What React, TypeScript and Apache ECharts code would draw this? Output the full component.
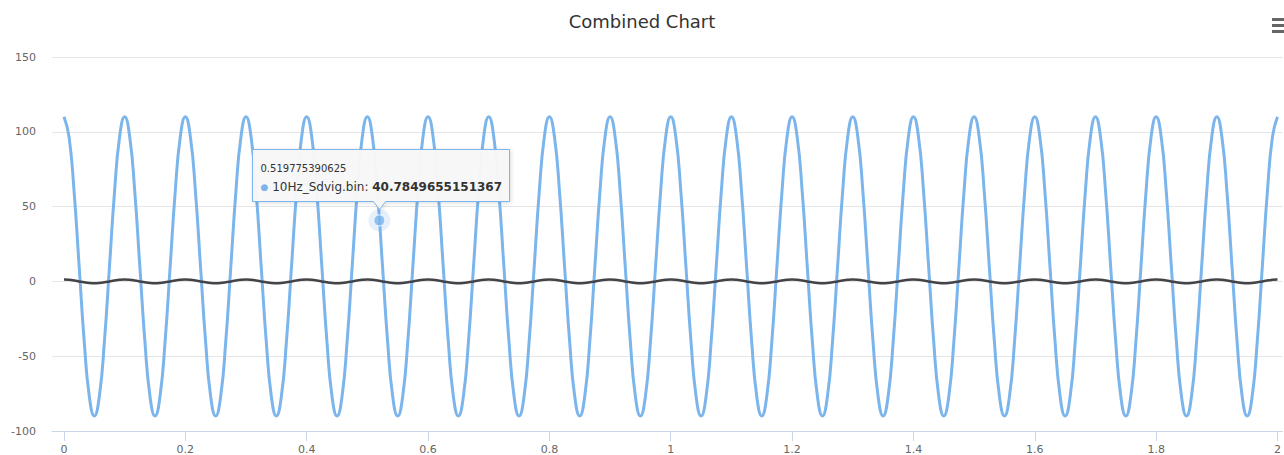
import { useEffect, useRef } from 'react';
import * as echarts from 'echarts';

// Sampling interval of both signals (seconds per sample)
const sampleStep = 1 / 120;

// 10Hz_Sdvig.bin values, one line per 0.1 s cycle
const blueValues = [
  110, 96.6, 60, 10, -40, -76.6, -90, -76.6, -40, 10, 60, 96.6,
  110, 96.6, 60, 10, -40, -76.6, -90, -76.6, -40, 10, 60, 96.6,
  110, 96.6, 60, 10, -40, -76.6, -90, -76.6, -40, 10, 60, 96.6,
  110, 96.6, 60, 10, -40, -76.6, -90, -76.6, -40, 10, 60, 96.6,
  110, 96.6, 60, 10, -40, -76.6, -90, -76.6, -40, 10, 60, 96.6,
  110, 96.6, 60, 10, -40, -76.6, -90, -76.6, -40, 10, 60, 96.6,
  110, 96.6, 60, 10, -40, -76.6, -90, -76.6, -40, 10, 60, 96.6,
  110, 96.6, 60, 10, -40, -76.6, -90, -76.6, -40, 10, 60, 96.6,
  110, 96.6, 60, 10, -40, -76.6, -90, -76.6, -40, 10, 60, 96.6,
  110, 96.6, 60, 10, -40, -76.6, -90, -76.6, -40, 10, 60, 96.6,
  110, 96.6, 60, 10, -40, -76.6, -90, -76.6, -40, 10, 60, 96.6,
  110, 96.6, 60, 10, -40, -76.6, -90, -76.6, -40, 10, 60, 96.6,
  110, 96.6, 60, 10, -40, -76.6, -90, -76.6, -40, 10, 60, 96.6,
  110, 96.6, 60, 10, -40, -76.6, -90, -76.6, -40, 10, 60, 96.6,
  110, 96.6, 60, 10, -40, -76.6, -90, -76.6, -40, 10, 60, 96.6,
  110, 96.6, 60, 10, -40, -76.6, -90, -76.6, -40, 10, 60, 96.6,
  110, 96.6, 60, 10, -40, -76.6, -90, -76.6, -40, 10, 60, 96.6,
  110, 96.6, 60, 10, -40, -76.6, -90, -76.6, -40, 10, 60, 96.6,
  110, 96.6, 60, 10, -40, -76.6, -90, -76.6, -40, 10, 60, 96.6,
  110, 96.6, 60, 10, -40, -76.6, -90, -76.6, -40, 10, 60, 96.6,
  110,
];

// 10Hz.bin values (small dark line around 0)
const blackValues = [
  1.2, 1.04, 0.6, 0, -0.6, -1.04, -1.2, -1.04, -0.6, 0, 0.6, 1.04,
  1.2, 1.04, 0.6, 0, -0.6, -1.04, -1.2, -1.04, -0.6, 0, 0.6, 1.04,
  1.2, 1.04, 0.6, 0, -0.6, -1.04, -1.2, -1.04, -0.6, 0, 0.6, 1.04,
  1.2, 1.04, 0.6, 0, -0.6, -1.04, -1.2, -1.04, -0.6, 0, 0.6, 1.04,
  1.2, 1.04, 0.6, 0, -0.6, -1.04, -1.2, -1.04, -0.6, 0, 0.6, 1.04,
  1.2, 1.04, 0.6, 0, -0.6, -1.04, -1.2, -1.04, -0.6, 0, 0.6, 1.04,
  1.2, 1.04, 0.6, 0, -0.6, -1.04, -1.2, -1.04, -0.6, 0, 0.6, 1.04,
  1.2, 1.04, 0.6, 0, -0.6, -1.04, -1.2, -1.04, -0.6, 0, 0.6, 1.04,
  1.2, 1.04, 0.6, 0, -0.6, -1.04, -1.2, -1.04, -0.6, 0, 0.6, 1.04,
  1.2, 1.04, 0.6, 0, -0.6, -1.04, -1.2, -1.04, -0.6, 0, 0.6, 1.04,
  1.2, 1.04, 0.6, 0, -0.6, -1.04, -1.2, -1.04, -0.6, 0, 0.6, 1.04,
  1.2, 1.04, 0.6, 0, -0.6, -1.04, -1.2, -1.04, -0.6, 0, 0.6, 1.04,
  1.2, 1.04, 0.6, 0, -0.6, -1.04, -1.2, -1.04, -0.6, 0, 0.6, 1.04,
  1.2, 1.04, 0.6, 0, -0.6, -1.04, -1.2, -1.04, -0.6, 0, 0.6, 1.04,
  1.2, 1.04, 0.6, 0, -0.6, -1.04, -1.2, -1.04, -0.6, 0, 0.6, 1.04,
  1.2, 1.04, 0.6, 0, -0.6, -1.04, -1.2, -1.04, -0.6, 0, 0.6, 1.04,
  1.2, 1.04, 0.6, 0, -0.6, -1.04, -1.2, -1.04, -0.6, 0, 0.6, 1.04,
  1.2, 1.04, 0.6, 0, -0.6, -1.04, -1.2, -1.04, -0.6, 0, 0.6, 1.04,
  1.2, 1.04, 0.6, 0, -0.6, -1.04, -1.2, -1.04, -0.6, 0, 0.6, 1.04,
  1.2, 1.04, 0.6, 0, -0.6, -1.04, -1.2, -1.04, -0.6, 0, 0.6, 1.04,
  1.2,
];

const xTicks = [0, 0.2, 0.4, 0.6, 0.8, 1, 1.2, 1.4, 1.6, 1.8, 2];
const yMin = -100;
const yMax = 150;
const yInterval = 50;
const xMin = -0.01975;
const xMax = 2.00823;

const blueName = '10Hz_Sdvig.bin';
const blackName = '10Hz.bin';
const hoverX = 0.519775390625;
const hoverY = 40.7849655151367;

const FONT = '"DejaVu Sans", "Lucida Grande", Arial, sans-serif';

export default function App() {
  const ref = useRef<HTMLDivElement>(null);

  useEffect(() => {
    document.body.style.margin = '0';
    const chart = echarts.init(ref.current!, null, { renderer: 'svg' });
    const toPairs = (vals: number[]) =>
      vals.map((v, i) => [Number((i * sampleStep).toFixed(6)), v]);

    chart.setOption({
      animation: false,
      textStyle: { fontFamily: FONT },
      title: {
        text: 'Combined Chart',
        left: 'center',
        top: 7,
        textStyle: { fontSize: 18, fontWeight: 'normal', color: '#333333', fontFamily: FONT },
      },
      grid: { left: 52, right: 0, top: 57, bottom: 23, containLabel: false },
      xAxis: {
        type: 'value',
        min: xMin,
        max: xMax,
        axisLine: { show: true, onZero: false, lineStyle: { color: '#ccd6eb', width: 1 } },
        axisTick: { show: true, length: 10, customValues: xTicks, lineStyle: { color: '#ccd6eb' } },
        axisLabel: {
          customValues: xTicks,
          color: '#666666',
          fontSize: 11,
          margin: 13,
          fontFamily: FONT,
        },
        splitLine: { show: false },
      },
      yAxis: {
        type: 'value',
        min: yMin,
        max: yMax,
        interval: yInterval,
        axisLine: { show: false },
        axisTick: { show: false },
        axisLabel: { color: '#666666', fontSize: 11, margin: 16, fontFamily: FONT },
        splitLine: { show: true, lineStyle: { color: '#e6e6e6', width: 1 } },
      },
      series: [
        {
          name: blueName,
          type: 'line',
          data: toPairs(blueValues),
          smooth: 0.5,
          showSymbol: false,
          lineStyle: { color: '#7cb5ec', width: 3 },
          itemStyle: { color: '#7cb5ec' },
          z: 2,
        },
        {
          name: blackName,
          type: 'line',
          data: toPairs(blackValues),
          smooth: 0.5,
          showSymbol: false,
          lineStyle: { color: '#434348', width: 2.5 },
          itemStyle: { color: '#434348' },
          z: 3,
        },
        {
          name: 'hover',
          type: 'scatter',
          silent: true,
          z: 5,
          data: [
            { value: [hoverX, hoverY], symbolSize: 22, itemStyle: { color: 'rgba(124,181,236,0.25)' } },
            { value: [hoverX, hoverY], symbolSize: 11, itemStyle: { color: '#7cb5ec', borderColor: '#ffffff', borderWidth: 1 } },
          ],
        },
      ],
    });

    const [px, py] = chart.convertToPixel({ gridIndex: 0 }, [hoverX, hoverY]) as number[];
    const boxW = 257;
    const l = Math.round(px - 127) + 0.5;
    const r = l + boxW;
    const t = Math.round(py - 71) + 0.5;
    const b = t + 52;
    const cx = Math.round(px) + 0.5;

    chart.setOption({
      graphic: [
        {
          type: 'polygon',
          z: 100,
          shape: {
            points: [
              [l, t], [r, t], [r, b], [cx + 6, b], [cx, b + 8], [cx - 6, b], [l, b],
            ],
          },
          style: {
            fill: 'rgba(248,248,248,0.96)',
            stroke: '#7cb5ec',
            lineWidth: 1,
            shadowBlur: 4,
            shadowColor: 'rgba(0,0,0,0.15)',
            shadowOffsetX: 1,
            shadowOffsetY: 1,
          },
        },
        {
          type: 'text',
          z: 101,
          style: {
            x: l + 8,
            y: t + 19,
            text: String(hoverX),
            fontSize: 10,
            fontFamily: FONT,
            fill: '#333333',
            verticalAlign: 'middle',
          },
        },
        {
          type: 'text',
          z: 101,
          style: {
            x: l + 8,
            y: t + 37,
            text: '{d|●} ' + blueName + ': {v|' + String(hoverY) + '}',
            fontSize: 12,
            fontFamily: FONT,
            fill: '#333333',
            verticalAlign: 'middle',
            rich: {
              d: { fontSize: 9, fill: '#7cb5ec', fontFamily: FONT },
              v: { fontSize: 12, fontWeight: 'bold', fill: '#333333', fontFamily: FONT },
            },
          },
        },
        { type: 'rect', z: 100, shape: { x: 1272, y: 18, width: 14, height: 3 }, style: { fill: '#666666' } },
        { type: 'rect', z: 100, shape: { x: 1272, y: 24, width: 14, height: 3 }, style: { fill: '#666666' } },
        { type: 'rect', z: 100, shape: { x: 1272, y: 30, width: 14, height: 3 }, style: { fill: '#666666' } },
      ],
    });

    return () => chart.dispose();
  }, []);

  return <div ref={ref} style={{ width: 1284, height: 455 }} />;
}
